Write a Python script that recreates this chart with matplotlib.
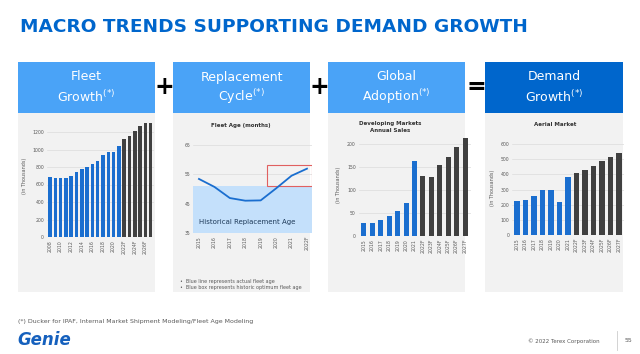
import matplotlib.pyplot as plt
from matplotlib.patches import Rectangle

# data
fleet_years = ['2008', '2009', '2010', '2011', '2012', '2013', '2014', '2015', '2016', '2017',
               '2018', '2019', '2020', '2021', '2022F', '2023F', '2024F', '2025F', '2026F', '2027F']
fleet_values = [687, 672, 675, 675, 702, 740, 774, 800, 838, 872,
                932, 970, 970, 1045, 1117, 1155, 1208, 1264, 1306, 1306]
fleet_actual = 14

age_years = [2015, 2016, 2017, 2018, 2019, 2020, 2021, 2022]
age_labels = ['2015', '2016', '2017', '2018', '2019', '2020', '2021', '2022F']
age_values = [53.4, 50.7, 46.9, 46.0, 46.1, 50.2, 54.5, 56.9]
replacement_age_top = 51

dev_years = ['2015', '2016', '2017', '2018', '2019', '2020', '2021',
             '2022F', '2023F', '2024F', '2025F', '2026F', '2027F']
dev_values = [27.7, 29, 35.7, 44.5, 55, 71.5, 163, 131, 129, 155.5, 173, 193.5, 215]
aerial_values = [223, 230, 258, 300, 300, 218, 382, 406, 430, 457, 486, 514, 543]
n_actual = 7

blue = '#1a6ecf'
dark = '#404040'
grey_txt = '#595959'
panel_bg = '#f2f2f2'

W, H = 640, 354
fig = plt.figure(figsize=(6.4, 3.54), dpi=100)
fig.patch.set_facecolor('white')


def box(x0, y0, x1, y1):
    # pixel box (top-left origin) -> figure fraction rect
    return [x0 / W, 1 - y1 / H, (x1 - x0) / W, (y1 - y0) / H]


def fx(x):
    return x / W


def fy(y):
    return 1 - y / H


fig.text(fx(20), fy(27), 'MACRO TRENDS SUPPORTING DEMAND GROWTH', color='#0066cc',
         fontsize=13.3, fontweight='bold', va='center', ha='left')

# header boxes and panels
headers = [('Fleet', 'Growth'), ('Replacement', 'Cycle'), ('Global', 'Adoption'), ('Demand', 'Growth')]
xs = [(18, 155), (173, 310), (328, 465), (485, 623)]
for i, ((a, b), (x0, x1)) in enumerate(zip(headers, xs)):
    c = '#0066cc' if i == 3 else '#4aa3f7'
    fig.patches.append(Rectangle((fx(x0), fy(113)), (x1 - x0) / W, (113 - 62) / H,
                                 transform=fig.transFigure, facecolor=c, edgecolor='none', zorder=-2))
    fig.patches.append(Rectangle((fx(x0), fy(292)), (x1 - x0) / W, (292 - 113) / H,
                                 transform=fig.transFigure, facecolor=panel_bg, edgecolor='none', zorder=-2))
    cx = fx((x0 + x1) / 2)
    fig.text(cx, fy(77), a, color='white', fontsize=9, ha='center', va='center')
    fig.text(cx, fy(97), b + r'$^{(*)}$', color='white', fontsize=9, ha='center', va='center')

for x, s in [(164, '+'), (319, '+'), (476, '=')]:
    fig.text(fx(x), fy(87), s, fontsize=17, fontweight='bold', ha='center', va='center', color='black')


def style(ax):
    ax.set_facecolor('none')
    for sp in ax.spines.values():
        sp.set_visible(False)
    ax.tick_params(axis='both', length=0, labelsize=3.3, colors=grey_txt, pad=2)
    ax.yaxis.grid(True, color='#dcdcdc', linewidth=0.5)
    ax.set_axisbelow(True)


# panel 1: fleet growth
ax1 = fig.add_axes(box(46.8, 114.5, 153.9, 237))
style(ax1)
colors1 = [blue] * fleet_actual + [dark] * (len(fleet_values) - fleet_actual)
ax1.bar(range(len(fleet_values)), fleet_values, width=0.65, color=colors1)
ax1.set_ylim(0, 1400)
ax1.set_yticks(range(0, 1201, 200))
ax1.set_xlim(-0.6, len(fleet_values) - 0.4)
ax1.set_xticks(range(0, len(fleet_values), 2))
ax1.set_xticklabels(fleet_years[::2], rotation=90)
ax1.set_ylabel('(in Thousands)', fontsize=3.5, color=grey_txt, labelpad=4)

# panel 2: fleet age
ax2 = fig.add_axes(box(192.8, 139, 311.6, 233))
style(ax2)
ax2.add_patch(Rectangle((2014.6, 35), 7.7, replacement_age_top - 35, facecolor='#c4e0fb', edgecolor='none'))
ax2.add_patch(Rectangle((2019.4, replacement_age_top), 2.9, 7, facecolor='none', edgecolor='#e06060', linewidth=0.8))
ax2.plot(age_years, age_values, color=blue, linewidth=1.3)
ax2.text(2015.0, 38.6, 'Historical Replacement Age', fontsize=5, color='#1f3b5a', va='center')
ax2.set_ylim(35, 67)
ax2.set_yticks([35, 45, 55, 65])
ax2.set_xlim(2014.6, 2022.3)
ax2.set_xticks(age_years)
ax2.set_xticklabels(age_labels, rotation=90)
fig.text(fx(241), fy(125), 'Fleet Age (months)', fontsize=4, fontweight='bold', ha='center', va='center', color='#333333')
fig.text(fx(180), fy(281), '\u2022  Blue line represents actual fleet age', fontsize=3.5, color=grey_txt, va='center')
fig.text(fx(180), fy(287), '\u2022  Blue box represents historic optimum fleet age', fontsize=3.5, color=grey_txt, va='center')

# panel 3: developing markets
colors3 = [blue] * n_actual + [dark] * (len(dev_values) - n_actual)
ax3 = fig.add_axes(box(358.5, 133, 470.5, 236))
style(ax3)
ax3.bar(range(len(dev_values)), dev_values, width=0.6, color=colors3)
ax3.set_ylim(0, 225)
ax3.set_yticks(range(0, 201, 50))
ax3.set_xlim(-0.65, len(dev_values) - 0.35)
ax3.set_xticks(range(len(dev_years)))
ax3.set_xticklabels(dev_years, rotation=90)
ax3.set_ylabel('(in Thousands)', fontsize=3.5, color=grey_txt, labelpad=4)
fig.text(fx(390), fy(123), 'Developing Markets', fontsize=4, fontweight='bold', ha='center', va='center', color='#333333')
fig.text(fx(390), fy(130), 'Annual Sales', fontsize=4, fontweight='bold', ha='center', va='center', color='#333333')

# panel 4: aerial market
ax4 = fig.add_axes(box(512, 141, 624, 235))
style(ax4)
ax4.bar(range(len(aerial_values)), aerial_values, width=0.65, color=colors3)
ax4.set_ylim(0, 620)
ax4.set_yticks(range(0, 601, 100))
ax4.set_xlim(-0.6, len(aerial_values) - 0.4)
ax4.set_xticks(range(len(dev_years)))
ax4.set_xticklabels(dev_years, rotation=90)
ax4.set_ylabel('(in Thousands)', fontsize=3.5, color=grey_txt, labelpad=4)
fig.text(fx(555), fy(124), 'Aerial Market', fontsize=4, fontweight='bold', ha='center', va='center', color='#333333')

# footer
fig.text(fx(18), fy(322), '(*) Ducker for IPAF, Internal Market Shipment Modeling/Fleet Age Modeling',
         fontsize=4.5, color=grey_txt, va='center')
fig.text(fx(17), fy(340), 'Genie', fontsize=12, fontweight='bold', fontstyle='italic', color='#1560bd', va='center')
fig.text(fx(600), fy(341), '\u00a9 2022 Terex Corporation', fontsize=4, color=grey_txt, va='center', ha='right')
fig.add_artist(plt.Line2D([fx(617), fx(617)], [fy(331), fy(350)], color='#cccccc', linewidth=0.6))
fig.text(fx(628), fy(341), '55', fontsize=4.5, color=grey_txt, va='center', ha='center')

fig.savefig('out.png', dpi=100)
